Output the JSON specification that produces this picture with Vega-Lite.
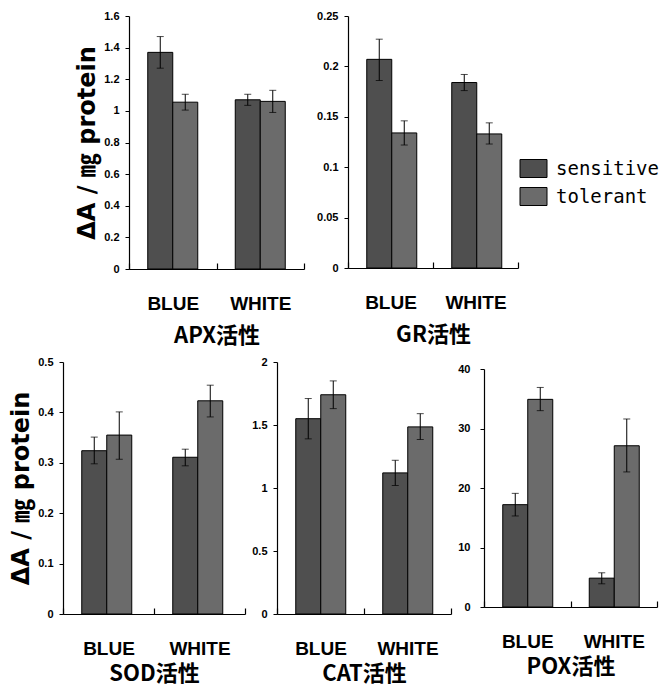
{
  "$schema": "https://vega.github.io/schema/vega-lite/v6.json",
  "padding": {"left": 9, "top": 10, "right": 0, "bottom": 0},
  "background": "white",
  "data": {"values": [
    {"enzyme": "APX", "light": "BLUE", "type": "sensitive", "value": 1.37, "lo": 1.27, "hi": 1.47},
    {"enzyme": "APX", "light": "BLUE", "type": "tolerant", "value": 1.055, "lo": 1.005, "hi": 1.105},
    {"enzyme": "APX", "light": "WHITE", "type": "sensitive", "value": 1.07, "lo": 1.035, "hi": 1.105},
    {"enzyme": "APX", "light": "WHITE", "type": "tolerant", "value": 1.06, "lo": 0.99, "hi": 1.13},
    {"enzyme": "GR", "light": "BLUE", "type": "sensitive", "value": 0.207, "lo": 0.186, "hi": 0.227},
    {"enzyme": "GR", "light": "BLUE", "type": "tolerant", "value": 0.134, "lo": 0.122, "hi": 0.146},
    {"enzyme": "GR", "light": "WHITE", "type": "sensitive", "value": 0.184, "lo": 0.176, "hi": 0.192},
    {"enzyme": "GR", "light": "WHITE", "type": "tolerant", "value": 0.133, "lo": 0.123, "hi": 0.144},
    {"enzyme": "SOD", "light": "BLUE", "type": "sensitive", "value": 0.324, "lo": 0.298, "hi": 0.351},
    {"enzyme": "SOD", "light": "BLUE", "type": "tolerant", "value": 0.355, "lo": 0.307, "hi": 0.401},
    {"enzyme": "SOD", "light": "WHITE", "type": "sensitive", "value": 0.311, "lo": 0.294, "hi": 0.327},
    {"enzyme": "SOD", "light": "WHITE", "type": "tolerant", "value": 0.423, "lo": 0.391, "hi": 0.454},
    {"enzyme": "CAT", "light": "BLUE", "type": "sensitive", "value": 1.55, "lo": 1.39, "hi": 1.71},
    {"enzyme": "CAT", "light": "BLUE", "type": "tolerant", "value": 1.74, "lo": 1.63, "hi": 1.85},
    {"enzyme": "CAT", "light": "WHITE", "type": "sensitive", "value": 1.12, "lo": 1.02, "hi": 1.22},
    {"enzyme": "CAT", "light": "WHITE", "type": "tolerant", "value": 1.485, "lo": 1.385, "hi": 1.59},
    {"enzyme": "POX", "light": "BLUE", "type": "sensitive", "value": 17.2, "lo": 15.3, "hi": 19.1},
    {"enzyme": "POX", "light": "BLUE", "type": "tolerant", "value": 34.9, "lo": 33.0, "hi": 36.9},
    {"enzyme": "POX", "light": "WHITE", "type": "sensitive", "value": 4.85, "lo": 3.9, "hi": 5.75},
    {"enzyme": "POX", "light": "WHITE", "type": "tolerant", "value": 27.1, "lo": 22.7, "hi": 31.6}
  ]},
  "spacing": 10,
  "vconcat": [
    {
      "spacing": 11,
      "hconcat": [
        {"width": 1, "height": 253, "data": {"values": []}, "mark": {"type": "point", "opacity": 0}, "encoding": {}},
        {
          "width": 175, "height": 253,
          "transform": [{"filter": "datum.enzyme === 'APX'"}],
          "encoding": {
            "x": {"field": "light", "type": "nominal", "sort": ["BLUE", "WHITE"], "scale": {"paddingInner": 0, "paddingOuter": 0}, "axis": {"title": "APX活性", "titlePadding": 12, "ticks": true, "tickBand": "extent", "tickSize": -6, "tickColor": "black", "tickWidth": 1.2, "labelPadding": 31}},
            "xOffset": {"field": "type", "type": "nominal", "sort": ["sensitive", "tolerant"], "scale": {"paddingInner": 0, "paddingOuter": 0.75}},
            "y": {"field": "value", "type": "quantitative", "scale": {"domain": [0, 1.6]}, "axis": {"values": [0, 0.2, 0.4, 0.6, 0.8, 1, 1.2, 1.4, 1.6], "labelOverlap": false, "title": "ΔA / ㎎ protein"}}
          },
          "layer": [
            {"mark": {"type": "bar", "stroke": "black", "strokeWidth": 1},
             "encoding": {
               "color": {"field": "type", "type": "nominal", "scale": {"domain": ["sensitive", "tolerant"], "range": ["#4f4f4f", "#6b6b6b"]}, "legend": {"title": null}}
             }},
            {"mark": {"type": "rule", "color": "black", "strokeWidth": 1}, "encoding": {"y": {"field": "lo", "type": "quantitative"}, "y2": {"field": "hi"}}},
            {"mark": {"type": "tick", "color": "black", "thickness": 1, "size": 7}, "encoding": {"y": {"field": "hi", "type": "quantitative"}}},
            {"mark": {"type": "tick", "color": "black", "thickness": 1, "size": 7}, "encoding": {"y": {"field": "lo", "type": "quantitative"}}}
          ]
        },
        {
          "width": 170, "height": 252,
          "transform": [{"filter": "datum.enzyme === 'GR'"}],
          "encoding": {
            "x": {"field": "light", "type": "nominal", "sort": ["BLUE", "WHITE"], "scale": {"paddingInner": 0, "paddingOuter": 0}, "axis": {"title": "GR活性", "titlePadding": 12, "ticks": true, "tickBand": "extent", "tickSize": -6, "tickColor": "black", "tickWidth": 1.2, "labelPadding": 31}},
            "xOffset": {"field": "type", "type": "nominal", "sort": ["sensitive", "tolerant"], "scale": {"paddingInner": 0, "paddingOuter": 0.75}},
            "y": {"field": "value", "type": "quantitative", "scale": {"domain": [0, 0.25]}, "axis": {"values": [0, 0.05, 0.1, 0.15, 0.2, 0.25], "labelOverlap": false, "title": null}}
          },
          "layer": [
            {"mark": {"type": "bar", "stroke": "black", "strokeWidth": 1},
             "encoding": {
               "color": {"field": "type", "type": "nominal", "scale": {"domain": ["sensitive", "tolerant"], "range": ["#4f4f4f", "#6b6b6b"]}, "legend": {"title": null}}
             }},
            {"mark": {"type": "rule", "color": "black", "strokeWidth": 1}, "encoding": {"y": {"field": "lo", "type": "quantitative"}, "y2": {"field": "hi"}}},
            {"mark": {"type": "tick", "color": "black", "thickness": 1, "size": 7}, "encoding": {"y": {"field": "hi", "type": "quantitative"}}},
            {"mark": {"type": "tick", "color": "black", "thickness": 1, "size": 7}, "encoding": {"y": {"field": "lo", "type": "quantitative"}}}
          ]
        }
      ]
    },
    {
      "spacing": 5,
      "center": true,
      "hconcat": [
        {
          "width": 182, "height": 252,
          "transform": [{"filter": "datum.enzyme === 'SOD'"}],
          "encoding": {
            "x": {"field": "light", "type": "nominal", "sort": ["BLUE", "WHITE"], "scale": {"paddingInner": 0, "paddingOuter": 0}, "axis": {"title": "SOD活性", "titlePadding": 5, "ticks": true, "tickBand": "extent", "tickSize": -6, "tickColor": "black", "tickWidth": 1.2, "labelPadding": 31}},
            "xOffset": {"field": "type", "type": "nominal", "sort": ["sensitive", "tolerant"], "scale": {"paddingInner": 0, "paddingOuter": 0.75}},
            "y": {"field": "value", "type": "quantitative", "scale": {"domain": [0, 0.5]}, "axis": {"values": [0, 0.1, 0.2, 0.3, 0.4, 0.5], "labelOverlap": false, "title": "ΔA / ㎎ protein"}}
          },
          "layer": [
            {"mark": {"type": "bar", "stroke": "black", "strokeWidth": 1},
             "encoding": {
               "color": {"field": "type", "type": "nominal", "scale": {"domain": ["sensitive", "tolerant"], "range": ["#4f4f4f", "#6b6b6b"]}, "legend": {"title": null}}
             }},
            {"mark": {"type": "rule", "color": "black", "strokeWidth": 1}, "encoding": {"y": {"field": "lo", "type": "quantitative"}, "y2": {"field": "hi"}}},
            {"mark": {"type": "tick", "color": "black", "thickness": 1, "size": 7}, "encoding": {"y": {"field": "hi", "type": "quantitative"}}},
            {"mark": {"type": "tick", "color": "black", "thickness": 1, "size": 7}, "encoding": {"y": {"field": "lo", "type": "quantitative"}}}
          ]
        },
        {
          "width": 174, "height": 252,
          "transform": [{"filter": "datum.enzyme === 'CAT'"}],
          "encoding": {
            "x": {"field": "light", "type": "nominal", "sort": ["BLUE", "WHITE"], "scale": {"paddingInner": 0, "paddingOuter": 0}, "axis": {"title": "CAT活性", "titlePadding": 5, "ticks": true, "tickBand": "extent", "tickSize": -6, "tickColor": "black", "tickWidth": 1.2, "labelPadding": 31}},
            "xOffset": {"field": "type", "type": "nominal", "sort": ["sensitive", "tolerant"], "scale": {"paddingInner": 0, "paddingOuter": 0.75}},
            "y": {"field": "value", "type": "quantitative", "scale": {"domain": [0, 2]}, "axis": {"values": [0, 0.5, 1, 1.5, 2], "labelOverlap": false, "title": null}}
          },
          "layer": [
            {"mark": {"type": "bar", "stroke": "black", "strokeWidth": 1},
             "encoding": {
               "color": {"field": "type", "type": "nominal", "scale": {"domain": ["sensitive", "tolerant"], "range": ["#4f4f4f", "#6b6b6b"]}, "legend": {"title": null}}
             }},
            {"mark": {"type": "rule", "color": "black", "strokeWidth": 1}, "encoding": {"y": {"field": "lo", "type": "quantitative"}, "y2": {"field": "hi"}}},
            {"mark": {"type": "tick", "color": "black", "thickness": 1, "size": 7}, "encoding": {"y": {"field": "hi", "type": "quantitative"}}},
            {"mark": {"type": "tick", "color": "black", "thickness": 1, "size": 7}, "encoding": {"y": {"field": "lo", "type": "quantitative"}}}
          ]
        },
        {
          "width": 173, "height": 238,
          "transform": [{"filter": "datum.enzyme === 'POX'"}],
          "encoding": {
            "x": {"field": "light", "type": "nominal", "sort": ["BLUE", "WHITE"], "scale": {"paddingInner": 0, "paddingOuter": 0}, "axis": {"title": "POX活性", "titlePadding": 5, "ticks": true, "tickBand": "extent", "tickSize": -6, "tickColor": "black", "tickWidth": 1.2, "labelPadding": 31}},
            "xOffset": {"field": "type", "type": "nominal", "sort": ["sensitive", "tolerant"], "scale": {"paddingInner": 0, "paddingOuter": 0.75}},
            "y": {"field": "value", "type": "quantitative", "scale": {"domain": [0, 40]}, "axis": {"values": [0, 10, 20, 30, 40], "labelOverlap": false, "title": null, "labelPadding": 10}}
          },
          "layer": [
            {"mark": {"type": "bar", "stroke": "black", "strokeWidth": 1},
             "encoding": {
               "color": {"field": "type", "type": "nominal", "scale": {"domain": ["sensitive", "tolerant"], "range": ["#4f4f4f", "#6b6b6b"]}, "legend": {"title": null}}
             }},
            {"mark": {"type": "rule", "color": "black", "strokeWidth": 1}, "encoding": {"y": {"field": "lo", "type": "quantitative"}, "y2": {"field": "hi"}}},
            {"mark": {"type": "tick", "color": "black", "thickness": 1, "size": 7}, "encoding": {"y": {"field": "hi", "type": "quantitative"}}},
            {"mark": {"type": "tick", "color": "black", "thickness": 1, "size": 7}, "encoding": {"y": {"field": "lo", "type": "quantitative"}}}
          ]
        }
      ]
    }
  ],
  "config": {
    "view": {"stroke": null},
    "axis": {"domainColor": "black", "tickColor": "black", "labelColor": "black", "titleColor": "black", "grid": false, "domainWidth": 1.2},
    "axisY": {"labelFont": "Liberation Sans", "labelFontWeight": "bold", "labelFontSize": 11, "tickSize": 4, "labelPadding": 6, "labelOverlap": false, "format": "~r", "titleFont": "DejaVu Sans, Noto Sans CJK JP", "titleFontSize": 24, "titleFontWeight": "bold", "titlePadding": 4},
    "axisX": {"labelAngle": 0, "labelFont": "Liberation Sans", "labelFontWeight": "bold", "labelFontSize": 19, "titleFont": "Noto Sans CJK JP", "titleFontSize": 22, "titleFontWeight": "bold"},
    "legend": {
      "orient": "none", "legendX": 460, "legendY": 142, "padding": 0,
      "symbolType": "M-1.35,-0.9H1.35V0.9H-1.35Z", "symbolSize": 400,
      "symbolStrokeColor": "black", "symbolStrokeWidth": 1, "symbolOpacity": 1,
      "labelFont": "DejaVu Sans Mono", "labelFontSize": 19, "labelColor": "black", "labelOffset": 12, "rowPadding": 5
    }
  }
}
